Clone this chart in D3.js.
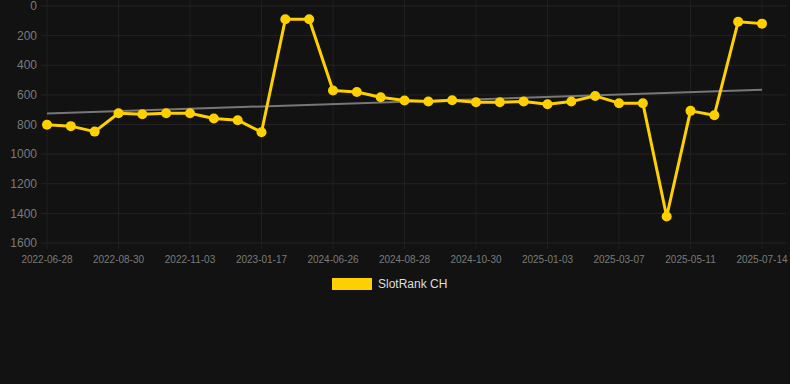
<!DOCTYPE html>
<html>
<head>
<meta charset="utf-8">
<script src="https://cdn.jsdelivr.net/npm/d3@7"></script>
<style>
  html, body { margin: 0; padding: 0; background: #121212; }
  text { font-family: "Liberation Sans", Arial, sans-serif; }
</style>
</head>
<body>
<script>
// data
var dates = ['2022-06-28','2022-07-19','2022-08-09','2022-08-30','2022-09-20','2022-10-12','2022-11-03',
             '2022-11-28','2022-12-22','2023-01-17','2024-05-10','2024-06-05','2024-06-26','2024-07-17',
             '2024-08-07','2024-08-28','2024-09-18','2024-10-09','2024-10-30','2024-11-20','2024-12-12',
             '2025-01-03','2025-01-24','2025-02-14','2025-03-07','2025-03-29','2025-04-20','2025-05-11',
             '2025-06-01','2025-06-22','2025-07-14']
var ranks = [802, 811, 848, 724, 731, 724, 724, 760, 771, 852, 90, 90, 571, 580, 616, 638, 645, 636,
             650, 650, 645, 663, 645, 607, 656, 656, 1421, 708, 737, 106, 119]
var trend = [726, 566]
var yTicks = [0, 200, 400, 600, 800, 1000, 1200, 1400, 1600]
var seriesName = 'SlotRank CH'

var width = 790, height = 384
var plotLeft = 47, plotRight = 762, plotTop = 6, plotBottom = 243
var gold = '#ffd000'

var svg = d3.select('body').append('svg').attr('width', width).attr('height', height)
svg.append('rect').attr('width', width).attr('height', height).attr('fill', '#121212')

var x = d3.scalePoint().domain(dates).range([plotLeft, plotRight])
var y = d3.scaleLinear().domain([0, 1600]).range([plotTop, plotBottom])

var labelDates = dates.filter((d, i) => i % 3 == 0)

// grid
svg.append('g').selectAll('line').data(yTicks).enter().append('line')
   .attr('x1', 41).attr('x2', 786)
   .attr('y1', d => y(d)).attr('y2', d => y(d))
   .attr('stroke', '#232323').attr('stroke-width', 1)
svg.append('g').selectAll('line').data(labelDates).enter().append('line')
   .attr('x1', d => x(d)).attr('x2', d => x(d))
   .attr('y1', 0).attr('y2', plotBottom + 6)
   .attr('stroke', '#1f1f1f').attr('stroke-width', 1)

// y axis labels
svg.append('g').selectAll('text').data(yTicks).enter().append('text')
   .attr('x', 37).attr('y', d => y(d)).attr('dy', '0.35em')
   .attr('text-anchor', 'end').attr('fill', '#7a7a7a').attr('font-size', 12)
   .text(d => d)

// x axis labels
svg.append('g').selectAll('text').data(labelDates).enter().append('text')
   .attr('x', d => x(d)).attr('y', 259).attr('dy', '0.35em')
   .attr('text-anchor', 'middle').attr('fill', '#7a7a7a').attr('font-size', 10)
   .text(d => d)

// trend line
svg.append('line')
   .attr('x1', x(dates[0])).attr('y1', y(trend[0]))
   .attr('x2', x(dates[dates.length - 1])).attr('y2', y(trend[1]))
   .attr('stroke', '#777').attr('stroke-width', 2)

// series
var line = d3.line().x((d, i) => x(dates[i])).y(d => y(d))
svg.append('path').datum(ranks)
   .attr('d', line).attr('fill', 'none')
   .attr('stroke', gold).attr('stroke-width', 3).attr('stroke-linejoin', 'round')
svg.append('g').selectAll('circle').data(ranks).enter().append('circle')
   .attr('cx', (d, i) => x(dates[i])).attr('cy', d => y(d))
   .attr('r', 5).attr('fill', gold)

// legend
svg.append('rect').attr('x', 332).attr('y', 278).attr('width', 40).attr('height', 12)
   .attr('fill', gold)
svg.append('text').attr('x', 378).attr('y', 284).attr('dy', '0.35em')
   .attr('fill', '#dddddd').attr('font-size', 12).text(seriesName)
</script>
</body>
</html>
